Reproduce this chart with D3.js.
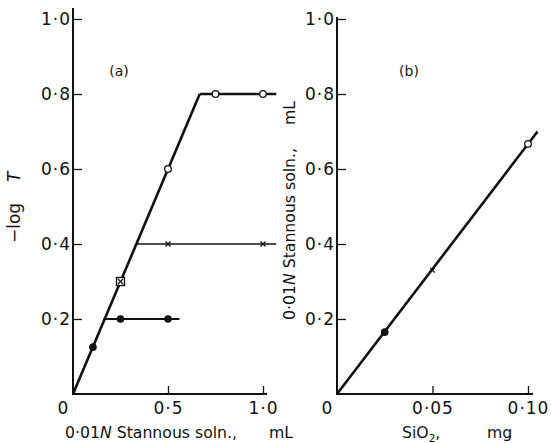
<!DOCTYPE html>
<html>
<head>
<meta charset="utf-8">
<script src="https://cdn.jsdelivr.net/npm/d3@7"></script>
<style>
  html, body { margin: 0; padding: 0; background: #fff; }
  svg { display: block; }
  text { font-family: "DejaVu Sans", "Liberation Sans", sans-serif; fill: #111; }
</style>
</head>
<body>
<svg id="chart" width="551" height="443"></svg>
<script>
// ---- Panel (a): absorbance vs volume of 0.01N stannous solution ----
const yTicks = [0.2, 0.4, 0.6, 0.8, 1.0];
const aTicksX = [0.5, 1.0];

// measured points, grouped by marker
const aOpenX = [0.5, 0.75, 1.0];
const aOpenY = [0.6, 0.8, 0.8];
const aCrossX = [0.5, 1.0];
const aCrossY = [0.4, 0.4];
const aSquareX = [0.25];
const aSquareY = [0.3];
const aFilledX = [0.105, 0.25, 0.5];
const aFilledY = [0.125, 0.2, 0.2];

// drawn lines: common rise, then the three plateaus
const aRiseX = [0, 0.667];
const aRiseY = [0, 0.8];
const aPlateauStartX = [0.667, 0.333, 0.16];
const aPlateauEndX = [1.07, 1.07, 0.56];
const aPlateauY = [0.8, 0.4, 0.2];
const aPlateauWidth = [2.6, 1.6, 2.0];

// ---- Panel (b): stannous volume vs SiO2 ----
const bTicksX = [0.05, 0.10];
const bSiO2 = [0.025, 0.05, 0.10];
const bStannous = [0.165, 0.33, 0.667];
const bMarker = ["filled", "cross", "open"];
const bLineX = [0, 0.105];
const bLineY = [0, 0.70];

const svg = d3.select("#chart");
const fmt = d => d3.format(".1f")(d).replace(".", "\u00B7");
const fmt2 = d => d3.format(".2f")(d).replace(".", "\u00B7");

const y = d3.scaleLinear().domain([0, 1]).range([394, 19]);
const xa = d3.scaleLinear().domain([0, 1]).range([73, 263]);
const xb = d3.scaleLinear().domain([0, 0.1]).range([337, 528]);

const tickFont = 17;
const titleFont = 15.7;

function drawFrame(x, xTicks, xFmt, xEnd, yTop) {
  // y axis: ticks point inward, labels outside
  const gy = svg.append("g").attr("transform", `translate(${x(0)},0)`)
    .call(d3.axisLeft(y).tickValues(yTicks).tickFormat(fmt).tickSize(-9).tickPadding(2));
  gy.select(".domain").remove();
  gy.selectAll(".tick line").attr("stroke", "#111").attr("stroke-width", 1.3);
  gy.selectAll(".tick text").attr("font-size", tickFont).attr("letter-spacing", 1)
    .attr("font-family", "DejaVu Sans").attr("fill", "#111");

  const gx = svg.append("g").attr("transform", `translate(0,${y(0)})`)
    .call(d3.axisBottom(x).tickValues(xTicks).tickFormat(xFmt).tickSize(-8).tickPadding(8));
  gx.select(".domain").remove();
  gx.selectAll(".tick line").attr("stroke", "#111").attr("stroke-width", 1.3);
  gx.selectAll(".tick text").attr("font-size", tickFont).attr("letter-spacing", 1)
    .attr("font-family", "DejaVu Sans").attr("fill", "#111");

  svg.append("line").attr("x1", x(0)).attr("x2", x(0)).attr("y1", y(0) + 1).attr("y2", yTop)
    .attr("stroke", "#111").attr("stroke-width", 2);
  svg.append("line").attr("x1", x(0) - 1).attr("x2", xEnd).attr("y1", y(0)).attr("y2", y(0))
    .attr("stroke", "#111").attr("stroke-width", 2);
  svg.append("text").attr("x", x(0) - 10).attr("y", y(0) + 20)
    .attr("text-anchor", "middle").attr("font-size", tickFont).text("0");
}

drawFrame(xa, aTicksX, fmt, 267, 8);
drawFrame(xb, bTicksX, fmt2, 533, 17);

const line = (x) => d3.line().x(d => x(d[0])).y(d => y(d[1]));

// panel (a) lines
svg.append("path").datum(d3.zip(aRiseX, aRiseY))
  .attr("d", line(xa)).attr("fill", "none").attr("stroke", "#111")
  .attr("stroke-width", 2.6).attr("stroke-linejoin", "round");
aPlateauY.forEach((v, i) => {
  svg.append("path").datum([[aPlateauStartX[i], v], [aPlateauEndX[i], v]])
    .attr("d", line(xa)).attr("fill", "none").attr("stroke", "#111")
    .attr("stroke-width", aPlateauWidth[i]);
});

// panel (b) line
svg.append("path").datum(d3.zip(bLineX, bLineY))
  .attr("d", line(xb)).attr("fill", "none").attr("stroke", "#111").attr("stroke-width", 2.6);

// markers
function openCircle(x, px, py) {
  svg.append("circle").attr("cx", x(px)).attr("cy", y(py)).attr("r", 3.3)
    .attr("fill", "#fff").attr("stroke", "#111").attr("stroke-width", 1.3);
}
function filledCircle(x, px, py) {
  svg.append("circle").attr("cx", x(px)).attr("cy", y(py)).attr("r", 3.8).attr("fill", "#111");
}
function cross(x, px, py, s) {
  const cx = x(px), cy = y(py);
  svg.append("path").attr("d", `M${cx - s},${cy - s}L${cx + s},${cy + s}M${cx - s},${cy + s}L${cx + s},${cy - s}`)
    .attr("stroke", "#111").attr("stroke-width", 1.2).attr("fill", "none");
}
function square(x, px, py) {
  const cx = x(px), cy = y(py);
  svg.append("rect").attr("x", cx - 4).attr("y", cy - 4).attr("width", 8).attr("height", 8)
    .attr("fill", "#fff").attr("stroke", "#111").attr("stroke-width", 1.4);
}

aOpenX.forEach((v, i) => openCircle(xa, v, aOpenY[i]));
aCrossX.forEach((v, i) => cross(xa, v, aCrossY[i], 2.5));
aSquareX.forEach((v, i) => { square(xa, v, aSquareY[i]); cross(xa, v, aSquareY[i], 2.5); });
aFilledX.forEach((v, i) => filledCircle(xa, v, aFilledY[i]));

bSiO2.forEach((v, i) => {
  if (bMarker[i] === "filled") filledCircle(xb, v, bStannous[i]);
  else if (bMarker[i] === "open") openCircle(xb, v, bStannous[i]);
  else cross(xb, v, bStannous[i], 2.3);
});

// panel letters
svg.append("text").attr("x", 119).attr("y", 76).attr("text-anchor", "middle")
  .attr("font-size", 14).text("(a)");
svg.append("text").attr("x", 409).attr("y", 76).attr("text-anchor", "middle")
  .attr("font-size", 14).text("(b)");

// axis titles
const tA = svg.append("text").attr("x", 65).attr("y", 438).attr("font-size", titleFont);
tA.append("tspan").text("0\u00B701");
tA.append("tspan").attr("font-style", "italic").text("N");
tA.append("tspan").text(" Stannous soln.,");
tA.append("tspan").attr("x", 269).text("mL");

const tB = svg.append("text").attr("x", 402).attr("y", 438).attr("font-size", titleFont);
tB.append("tspan").text("SiO");
tB.append("tspan").attr("font-size", 10.5).attr("dy", 4).text("2");
tB.append("tspan").attr("dy", -4).text(",");
tB.append("tspan").attr("x", 487).text("mg");

const yA = svg.append("text").attr("transform", "translate(20,243) rotate(-90)")
  .attr("font-size", 17);
yA.append("tspan").text("\u2212log");
yA.append("tspan").attr("x", 61).attr("font-style", "italic").text("T");

const yB = svg.append("text").attr("transform", "translate(295,320) rotate(-90)")
  .attr("font-size", titleFont);
yB.append("tspan").text("0\u00B701");
yB.append("tspan").attr("font-style", "italic").text("N");
yB.append("tspan").text(" Stannous soln.,");
yB.append("tspan").attr("x", 195).text("mL");
</script>
</body>
</html>
